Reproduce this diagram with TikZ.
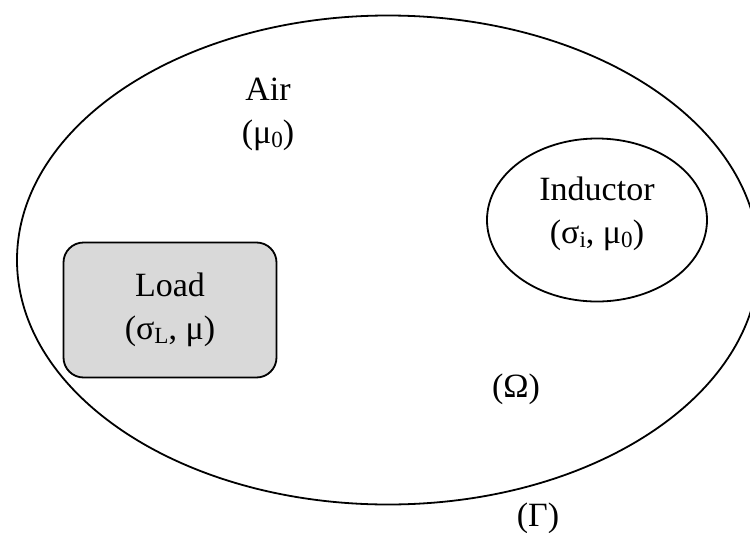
\documentclass[tikz,border=0pt]{standalone}
\usepackage{fontspec}
\setmainfont{Liberation Serif}
\usepackage{graphicx}
\usetikzlibrary{shapes.geometric}
\newcommand\lowsub[1]{\raisebox{-0.25ex}{\scalebox{0.68}{#1}}}
\definecolor{loadgray}{HTML}{D9D9D9}
\tikzset{
  lbl/.style={font=\fontsize{34}{43}\selectfont, align=center, inner sep=0pt},
  region/.style={draw=black, line width=1.8pt}
}
\begin{document}
\begin{tikzpicture}[x=1pt,y=-1pt]
\useasboundingbox (0,0) rectangle (750,533);
\node[region, ellipse, minimum width=742, minimum height=489, inner sep=0pt] (gamma) at (388,260) {};
\node[region, ellipse, minimum width=220, minimum height=163, inner sep=0pt] (ind) at (597,220) {};
\node[region, fill=loadgray, rounded corners=20pt, minimum width=213, minimum height=135, inner sep=0pt] (load) at (170,310) {};
\node[lbl] (air) at (268,114) {Air\\(μ\lowsub{0})};
\node[lbl] (indt) at (597,214) {Inductor\\(σ\lowsub{i}, μ\lowsub{0})};
\node[lbl] (loadt) at (170,310) {Load\\(σ\lowsub{L}, μ)};
\node[lbl] (omega) at (516,389) {(Ω)};
\node[lbl] (gam) at (538,518) {(Γ)};
\end{tikzpicture}
\end{document}
